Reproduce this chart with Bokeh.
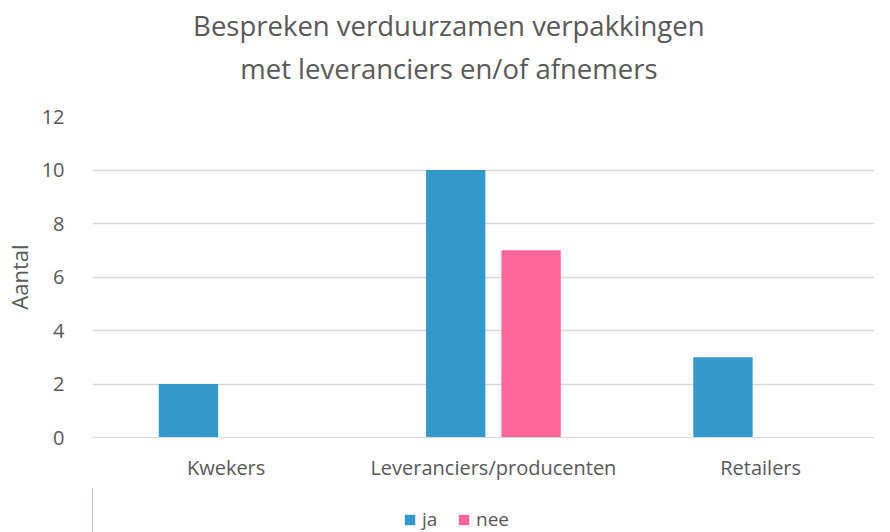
from bokeh.plotting import figure
from bokeh.layouts import column
from bokeh.models import ColumnDataSource, Legend, LegendItem, FixedTicker, Range1d
from bokeh.core.properties import value
from bokeh.transform import dodge
from bokeh.embed import file_html
from bokeh.resources import INLINE

categories = ["Kwekers", "Leveranciers/producenten", "Retailers"]
ja = [2, 10, 3]
nee = [0, 7, 0]
series = ["ja", "nee"]
colors = ["#3399CC", "#FF6699"]
y_ticks = [0, 2, 4, 6, 8, 10, 12]
title_lines = ["Bespreken verduurzamen verpakkingen", "met leveranciers en/of afnemers"]

FONT = "Open Sans"
GRAY = "#595959"
W = 874
LEFT = 84
FW = W - LEFT  # frame width shared by all rows

# ---- title strip (pixel-like coordinates inside the frame, y measured from top) ----
pt = figure(width=W, height=104, output_backend="svg", toolbar_location=None,
            x_range=Range1d(0, FW), y_range=Range1d(104, 0),
            x_axis_type=None, y_axis_type=None,
            min_border_left=LEFT, min_border_right=0, min_border_top=0, min_border_bottom=0)
pt.outline_line_color = None
pt.grid.grid_line_color = None
pt.text(x=[360, 360], y=[25, 68], text=title_lines, text_align="center", text_baseline="middle",
        text_font=value(FONT), text_font_size="27.5px", text_color=GRAY)

# ---- main chart ----
xi = [i + 0.5 for i in range(len(categories))]
src = ColumnDataSource(dict(x=xi, ja=ja, nee=nee))

p = figure(width=W, height=383, output_backend="svg", toolbar_location=None,
           x_range=Range1d(0, 2.926), y_range=Range1d(0, 12),
           min_border_left=LEFT, min_border_right=0, min_border_bottom=50, min_border_top=12)
p.outline_line_color = None

p.vbar(x=dodge("x", -0.141), top="ja", width=0.222, source=src, color=colors[0], line_color=None)
p.vbar(x=dodge("x", 0.141), top="nee", width=0.222, source=src, color=colors[1], line_color=None)

p.xaxis.ticker = FixedTicker(ticks=xi)
p.xaxis.major_label_overrides = {x: c for x, c in zip(xi, categories)}
p.xaxis.major_tick_line_color = None
p.xaxis.minor_tick_line_color = None
p.xaxis.axis_line_color = "#d9d9d9"
p.xaxis.major_label_text_font = FONT
p.xaxis.major_label_text_font_size = "20px"
p.xaxis.major_label_text_color = GRAY
p.xaxis.major_label_standoff = 10
p.xgrid.grid_line_color = None

p.yaxis.ticker = FixedTicker(ticks=y_ticks)
p.yaxis.axis_line_color = None
p.yaxis.major_tick_line_color = None
p.yaxis.minor_tick_line_color = None
p.yaxis.major_label_text_font = FONT
p.yaxis.major_label_text_font_size = "20px"
p.yaxis.major_label_text_color = GRAY
p.yaxis.major_label_standoff = 22
p.yaxis.axis_label = "Aantal"
p.yaxis.axis_label_text_font = FONT
p.yaxis.axis_label_text_font_size = "22px"
p.yaxis.axis_label_text_font_style = "normal"
p.yaxis.axis_label_text_color = GRAY
p.yaxis.axis_label_standoff = 5
p.ygrid.grid_line_color = "#d9d9d9"
p.ygrid.grid_line_width = 1.5

# ---- legend strip ----
pl = figure(width=W, height=45, output_backend="svg", toolbar_location=None,
            x_range=Range1d(0, 1), y_range=Range1d(0, 1),
            x_axis_type=None, y_axis_type=None,
            min_border_left=LEFT, min_border_right=0, min_border_top=0, min_border_bottom=0)
pl.outline_line_color = None
pl.grid.grid_line_color = None
# legend key renderers (their single bar lies outside the visible range)
lr = [pl.vbar(x=[-5], top=[1], width=0.1, color=c, line_color=None) for c in colors]
legend = Legend(items=[LegendItem(label=s, renderers=[r]) for s, r in zip(series, lr)],
                orientation="horizontal", location=(311, 0),
                label_text_font=FONT, label_text_font_size="19px", label_text_color=GRAY,
                glyph_width=13, glyph_height=13, spacing=15, border_line_color=None,
                background_fill_alpha=0, label_standoff=6, padding=0, margin=0)
pl.add_layout(legend, "center")

layout = column(pt, p, pl, spacing=0)
open("out.html", "w").write(file_html(layout, INLINE))
